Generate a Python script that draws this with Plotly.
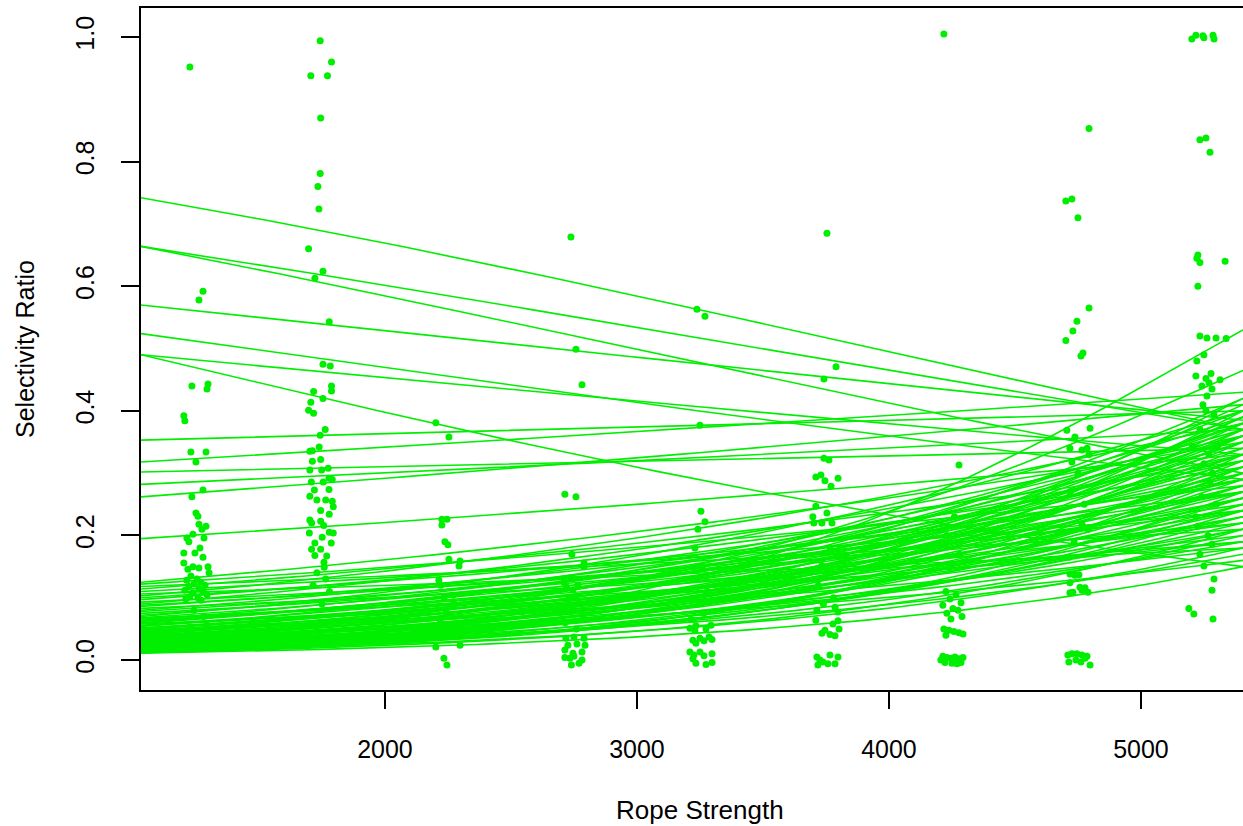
import numpy as np
import plotly.graph_objects as go

# ---------------- data ----------------
group_x = [1250, 1750, 2250, 2750, 3250, 3750, 4250, 4750, 5254]

g1_y = [0.952, 0.592, 0.578, 0.44, 0.443, 0.435, 0.392, 0.384, 0.334, 0.334, 0.318, 0.273, 0.262,
        0.236, 0.231, 0.218, 0.215, 0.21, 0.202, 0.196, 0.196, 0.19, 0.18, 0.172, 0.165, 0.172,
        0.156, 0.15, 0.15, 0.146, 0.148, 0.14, 0.135, 0.13, 0.128, 0.125, 0.122, 0.12, 0.118,
        0.115, 0.112, 0.11, 0.108, 0.105, 0.102, 0.1, 0.098, 0.096, 0.053, 0.056, 0.08, 0.07, 0.04, 0.03]
g1_dx = [-24, 28, 12, -16, 48, 44, -48, -44, -20, 40, 0, 28, -16,
         0, 8, 12, 40, 24, -12, -36, 32, -28, 16, -4, 28, -48,
         -48, -12, 48, -32, 12, 52, -20, 4, -36, 20, -8, 36, -28,
         12, -44, 28, -12, 44, -24, 8, -40, 20, -24, 44, -8, 30, -30, 10]

g2_y = [0.994, 0.96, 0.938, 0.938, 0.87, 0.781, 0.76, 0.724, 0.66, 0.624, 0.613, 0.543, 0.475,
        0.472, 0.44, 0.432, 0.431, 0.42, 0.414, 0.401, 0.396, 0.37, 0.361, 0.342, 0.336, 0.335,
        0.322, 0.319, 0.305, 0.305, 0.308, 0.286, 0.286, 0.292, 0.29, 0.273, 0.274, 0.263, 0.257,
        0.257, 0.255, 0.246, 0.24, 0.234, 0.225, 0.22, 0.223, 0.216, 0.204, 0.205, 0.204, 0.197,
        0.188, 0.188, 0.178, 0.178, 0.168, 0.167, 0.157, 0.149, 0.14, 0.13, 0.12, 0.11, 0.09, 0.06]
g2_dx = [-7, 38, -44, 22, -5, -7, -16, -12, -53, 4, -28, 29, 4,
         33, 38, 38, -33, 4, -44, -53, -33, 13, -7, -11, -38, -48,
         -5, -38, -48, -1, 25, -42, 5, 28, 41, -30, 28, -48, -20,
         15, 41, 45, -5, 29, -48, -41, -5, 7, -50, 29, 45, 1,
         -28, 37, -41, -5, -28, 19, 8, 9, -20, 15, -35, 30, 0, -10]

g3_y = [0.381, 0.358, 0.226, 0.226, 0.217, 0.19, 0.185, 0.162, 0.159, 0.151, 0.128, 0.12, 0.104,
        0.1, 0.091, 0.077, 0.072, 0.06, 0.05, 0.04, 0.021, 0.024, 0.003, -0.008]
g3_dx = [-48, 4, -24, -4, -24, -12, 0, 4, 48, 44, -36, -28, 20,
         -16, 24, -8, 12, -30, 36, -10, -48, 48, -16, -4]

g4_y = [0.679, 0.499, 0.442, 0.266, 0.262, 0.17, 0.156, 0.15, 0.132, 0.125, 0.117, 0.113, 0.12,
        0.1, 0.09, 0.08, 0.07, 0.06, 0.05, 0.035, 0.037, 0.035, 0.024, 0.026, 0.024, 0.016,
        0.011, 0.013, 0.003, 0.0, 0.004, 0.006, -0.005, -0.008]
g4_dx = [-12, 8, 32, -36, 8, -8, 40, 40, -12, -40, -28, -4, 16,
         -20, 25, -5, 35, -35, 10, -32, 0, 40, -24, 12, 44, -36,
         -4, 32, -16, 32, -36, 0, 20, -10]

g5_y = [0.563, 0.552, 0.377, 0.239, 0.222, 0.21, 0.18, 0.15, 0.13, 0.11, 0.09, 0.075, 0.065,
        0.051, 0.055, 0.056, 0.05, 0.047, 0.035, 0.037, 0.032, 0.031, 0.033, 0.027, 0.013,
        0.013, 0.008, 0.007, 0.01, -0.005, -0.007, -0.004, 0.002]
g5_dx = [-12, 20, 0, 4, 20, -8, -20, 10, -30, 30, -5, 15, -35,
         -40, -16, 44, 24, -20, 0, 36, -28, 16, 48, -16, -40,
         0, -24, 16, 48, -16, 24, 48, -28]

g6_y = [0.685, 0.471, 0.451, 0.324, 0.321, 0.294, 0.297, 0.288, 0.292, 0.279, 0.247, 0.236, 0.23,
        0.22, 0.22, 0.22, 0.18, 0.172, 0.152, 0.145, 0.12, 0.1, 0.09, 0.08, 0.085, 0.077, 0.064,
        0.063, 0.058, 0.048, 0.05, 0.043, 0.041, 0.039, 0.005, 0.0, 0.008, 0.005, -0.008, -0.006,
        -0.006, -0.003]
g6_dx = [4, 40, -8, -8, 12, -40, -20, -4, 48, 20, -40, 4, -52,
         -48, -16, 24, 16, -4, -16, 4, -30, 30, -10, -36, 36, 48, -40,
         48, 28, -4, 52, -16, 16, 36, -36, -24, 16, 48, -32, 8,
         36, -12]

g7_y = [1.005, 0.313, 0.23, 0.2, 0.17, 0.15, 0.11, 0.105, 0.098, 0.092, 0.088, 0.083, 0.08, 0.075,
        0.07, 0.066, 0.05, 0.048, 0.046, 0.044, 0.042, 0.04, 0.006, 0.004, 0.003, 0.005, 0.002,
        0.004, -0.004, -0.005, -0.006, -0.004, 0.0, -0.002]
g7_dx = [-32, 28, 10, -20, 30, -10, -24, 16, -8, 36, -36, 4, 24, -20,
         40, -4, -32, -12, 8, 28, 44, -24, -36, -20, -4, 12, 28,
         44, -28, 0, 20, 36, -44, 8]

g8_y = [0.853, 0.74, 0.737, 0.71, 0.565, 0.544, 0.528, 0.513, 0.493, 0.488, 0.369, 0.372, 0.358,
        0.34, 0.34, 0.337, 0.318, 0.33, 0.3, 0.27, 0.25, 0.218, 0.21, 0.19, 0.165, 0.138, 0.136,
        0.137, 0.124, 0.117, 0.116, 0.109, 0.108, 0.109, 0.112, 0.008, 0.01, 0.01, 0.008, 0.006,
        -0.003, 0.0, -0.003, -0.008, 0.003]
g8_dx = [44, -24, -48, 0, 44, -4, -20, -48, 20, 12, -44, 48, -12,
         -32, 36, 16, -24, 44, 0, -30, 25, 16, 40, -15, -35, -32, -12,
         4, -32, 8, 28, 40, -32, -20, 16, -40, -24, -4, 16, 36,
         -36, -8, 12, 48, 28]

g9_y = [0.997, 1.003, 1.002, 0.999, 1.003, 0.997, 0.835, 0.838, 0.815, 0.65, 0.645, 0.638, 0.64,
        0.6, 0.52, 0.517, 0.517, 0.516, 0.49, 0.48, 0.456, 0.452, 0.46, 0.45, 0.44, 0.445, 0.435,
        0.424, 0.41, 0.4, 0.395, 0.37, 0.343, 0.343, 0.33, 0.315, 0.3, 0.286, 0.262, 0.25, 0.23,
        0.215, 0.2, 0.186, 0.17, 0.151, 0.13, 0.112, 0.083, 0.074, 0.066]
g9_dx = [-52, -36, -8, -4, 32, 36, -20, 4, 20, -28, -32, -20, 80,
         -28, -20, 8, 44, 84, -4, -32, -36, 4, 24, 60, -12, 16, 28,
         8, -8, 4, 36, -20, -50, 50, 16, -4, 30, 20, -12, 44, -36,
         -28, 12, 28, -20, -4, 36, 28, -64, -44, 32]

points_y = [g1_y, g2_y, g3_y, g4_y, g5_y, g6_y, g7_y, g8_y, g9_y]
points_dx = [g1_dx, g2_dx, g3_dx, g4_dx, g5_dx, g6_dx, g7_dx, g8_dx, g9_dx]

# fitted curves: value at left axis limit and at right axis limit
x_left, x_right = 1032, 5405
line_start = [0.742, 0.664, 0.664, 0.57, 0.524, 0.49, 0.49, 0.353, 0.318, 0.302, 0.282, 0.262, 0.195,
              0.02, 0.035,
              0.011, 0.012, 0.012, 0.013, 0.014, 0.014, 0.015, 0.016, 0.016, 0.017, 0.018, 0.018,
              0.019, 0.020, 0.020, 0.021, 0.022, 0.023, 0.024, 0.025,
              0.026, 0.027, 0.028, 0.029, 0.030, 0.031, 0.032, 0.033, 0.034, 0.035, 0.036, 0.037,
              0.038, 0.040, 0.041, 0.042, 0.044, 0.045,
              0.047, 0.049, 0.050, 0.052, 0.054, 0.056, 0.058, 0.060, 0.062, 0.064, 0.066, 0.068, 0.070,
              0.075, 0.080, 0.083, 0.086, 0.090, 0.093, 0.097, 0.100, 0.103, 0.106, 0.110, 0.114,
              0.118, 0.122, 0.125,
              0.013, 0.015, 0.017, 0.019, 0.021, 0.022, 0.024, 0.026, 0.028, 0.030, 0.032, 0.034,
              0.036, 0.039, 0.043, 0.046, 0.048, 0.051, 0.055, 0.059, 0.063, 0.067, 0.072, 0.078, 0.088]
line_end = [0.37, 0.37, 0.30, 0.385, 0.29, 0.33, 0.15, 0.40, 0.43, 0.34, 0.37, 0.41, 0.33,
            0.53, 0.465,
            0.15, 0.21, 0.33, 0.27, 0.40, 0.18, 0.30, 0.36, 0.24, 0.42, 0.20, 0.32,
            0.38, 0.26, 0.17, 0.35, 0.29, 0.41, 0.22, 0.34,
            0.39, 0.25, 0.31, 0.19, 0.37, 0.28, 0.42, 0.23, 0.33, 0.16, 0.38, 0.27,
            0.30, 0.21, 0.36, 0.40, 0.26, 0.32,
            0.18, 0.35, 0.29, 0.24, 0.39, 0.31, 0.20, 0.34, 0.27, 0.37, 0.22, 0.30, 0.40,
            0.25, 0.33, 0.19, 0.29, 0.36, 0.22, 0.31, 0.27, 0.38, 0.18, 0.24, 0.32,
            0.21, 0.28, 0.35,
            0.31, 0.25, 0.37, 0.23, 0.28, 0.39, 0.31, 0.21, 0.36, 0.26, 0.33, 0.24,
            0.30, 0.35, 0.28, 0.38, 0.23, 0.33, 0.26, 0.36, 0.29, 0.19, 0.32, 0.27, 0.24]

x_ticks = [2000, 3000, 4000, 5000]
y_ticks = [0.0, 0.2, 0.4, 0.6, 0.8, 1.0]

# ---------------- build traces ----------------
GREEN = "#00ee00"
px_, py_ = [], []
for gx, ys, dxs in zip(group_x, points_y, points_dx):
    for y, dx in zip(ys, dxs):
        px_.append(gx + dx)
        py_.append(y)


def logit(p):
    return np.log(p / (1 - p))


xs = np.linspace(x_left, x_right, 80)
lx, ly = [], []
for s, e in zip(line_start, line_end):
    a, b = logit(s), logit(e)
    t = (xs - x_left) / (x_right - x_left)
    v = 1 / (1 + np.exp(-(a + (b - a) * t)))
    lx.extend(xs.tolist() + [None])
    ly.extend(v.tolist() + [None])

fig = go.Figure()
fig.add_trace(go.Scatter(x=px_, y=py_, mode="markers",
                         marker=dict(color=GREEN, size=7, line=dict(width=0)),
                         hoverinfo="skip", showlegend=False))
fig.add_trace(go.Scatter(x=lx, y=ly, mode="lines",
                         line=dict(color=GREEN, width=1.6),
                         hoverinfo="skip", showlegend=False))

FONT = "Liberation Sans, Arial, Helvetica, sans-serif"
fig.update_layout(
    width=1243, height=826,
    margin=dict(l=141, r=0, t=8, b=136),
    paper_bgcolor="white", plot_bgcolor="white",
    font=dict(family=FONT, size=25, color="black"),
    xaxis=dict(range=[x_left, x_right], tickvals=x_ticks, ticktext=[str(v) for v in x_ticks],
               showgrid=False, zeroline=False, showline=True, linecolor="black", linewidth=1.5,
               mirror=True, ticks="outside", ticklen=17, tickwidth=1.5, tickcolor="black",
               ticklabelstandoff=19, tickfont=dict(size=25)),
    yaxis=dict(range=[-0.048, 1.0466], tickvals=y_ticks, ticktext=["0.0", "0.2", "0.4", "0.6", "0.8", "1.0"],
               showgrid=False, zeroline=False, showline=True, linecolor="black", linewidth=1.5,
               ticks="outside", ticklen=18, tickwidth=1.5, tickcolor="black",
               tickangle=-90, ticklabelstandoff=17, tickfont=dict(size=25)),
    annotations=[
        dict(text="Rope Strength", xref="paper", yref="paper", x=0.5, y=0, yshift=-120, xshift=8,
             xanchor="center", yanchor="middle", showarrow=False, font=dict(size=26)),
        dict(text="Selectivity Ratio", xref="paper", yref="paper", x=0, y=0.5, xshift=-116,
             xanchor="center", yanchor="middle", textangle=-90, showarrow=False, font=dict(size=25)),
    ],
)

fig.write_html("out.html")
